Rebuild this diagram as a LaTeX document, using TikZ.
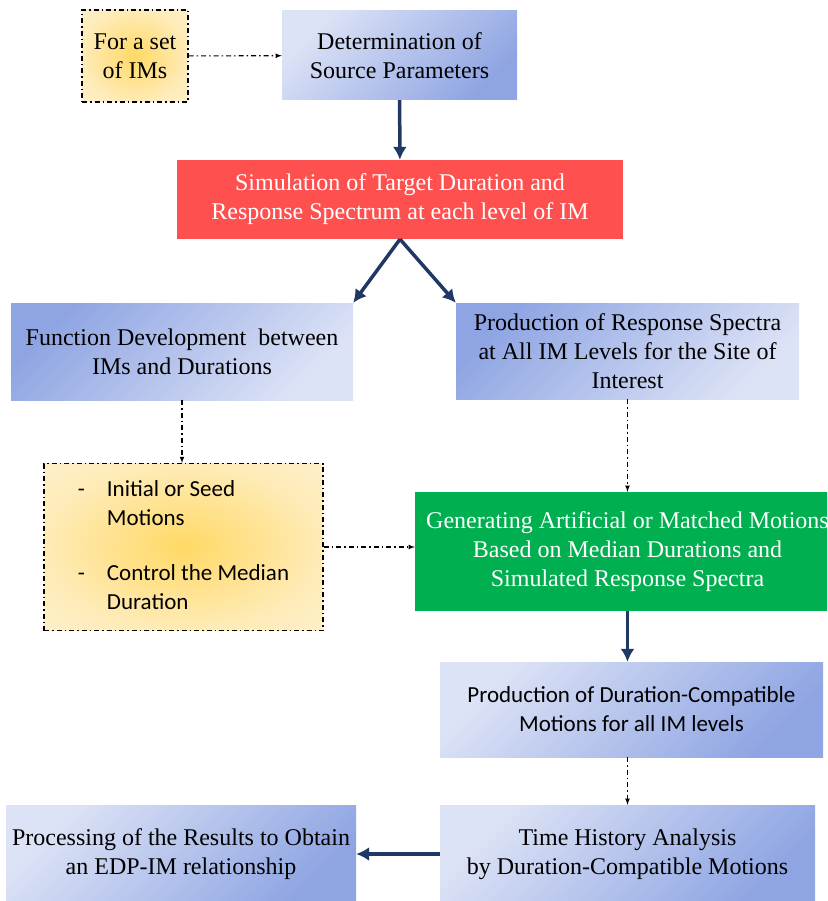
\documentclass[tikz,border=0pt]{standalone}
\usepackage{fontspec}
\setmainfont{Liberation Serif}
\newfontfamily\calibri{Carlito}
\usetikzlibrary{arrows.meta}

\definecolor{bluelite}{HTML}{DDE3F6}
\definecolor{bluedeep}{HTML}{8FA5E3}
\definecolor{goldcore}{HTML}{FFD966}
\definecolor{goldrim}{HTML}{FEF5E4}
\definecolor{redbox}{HTML}{FF5050}
\definecolor{greenbox}{HTML}{00B050}
\definecolor{arrowblue}{HTML}{203864}

\pgfdeclareradialshading{goldglow}{\pgfpoint{0bp}{0bp}}{color(0bp)=(goldcore); color(6bp)=(goldcore!85!goldrim); color(25bp)=(goldcore!35!goldrim); color(50bp)=(goldrim)}

\begin{document}
\begin{tikzpicture}[> = latex, x = 1pt, y = -1pt,
	box/.style = {rectangle, align = center, inner sep = 2pt, font = \fontsize{24}{29}\selectfont},
	sans/.style = {font = \calibri\fontsize{23}{29}\selectfont},
	litebox/.style = {box, top color = bluelite, bottom color = bluedeep, shading angle = 45},
	darkbox/.style = {box, top color = bluedeep, bottom color = bluelite, shading angle = 45},
	dashdot/.style = {line width = 1.1pt, dash pattern = on 5pt off 3pt on 1.5pt off 3pt},
	notebox/.style = {box, draw, dashdot, shade, shading = goldglow},
	flow/.style = {->, arrowblue, line width = 3.5pt, > = {Latex[length = 13pt, width = 14pt]}},
	hint/.style = {->, dashdot}]

	% Frame
	
	\path [use as bounding box, clip] (0, 0) rectangle (827, 901);
	
	% Boxes
	
	\node [notebox, minimum width = 106pt, minimum height = 92pt] (setim) at (135, 56) {For a set\\of IMs};
	\node [litebox, minimum width = 235pt, minimum height = 89pt] (source) at (399.5, 55.5) {Determination of\\Source Parameters};
	\node [box, fill = redbox, text = white, minimum width = 446pt, minimum height = 79pt] (target) at (400, 199.5) {Simulation of Target Duration and\\Response Spectrum at each level of IM};
	\node [darkbox, minimum width = 342pt, minimum height = 97pt] (func) at (182, 351.5) {Function Development\ \ between\\IMs and Durations};
	\node [darkbox, minimum width = 343pt, minimum height = 96pt] (spectra) at (627.5, 351) {Production of Response Spectra\\at All IM Levels for the Site of\\Interest};
	\node [notebox, sans, minimum width = 279pt, minimum height = 167pt] (seed) at (183.5, 547) {\begin{tabular}{@{}l@{\hspace{22pt}}l@{}}
		- & Initial or Seed\\
		  & Motions\\[26pt]
		- & Control the Median\\
		  & Duration
	\end{tabular}};
	\node [box, fill = greenbox, text = white, minimum width = 425pt, minimum height = 119pt] (motions) at (627.5, 551.5) {Generating Artificial or Matched Motions\\Based on Median Durations and\\Simulated Response Spectra};
	\node [litebox, sans, minimum width = 383pt, minimum height = 95pt] (durmot) at (631.5, 709.5) {Production of Duration-Compatible\\Motions for all IM levels};
	\node [litebox, minimum width = 375pt, minimum height = 98pt] (history) at (627.5, 854) {Time History Analysis\\by Duration-Compatible Motions};
	\node [litebox, minimum width = 350pt, minimum height = 98pt] (results) at (181, 854) {Processing of the Results to Obtain\\an EDP-IM relationship};
	
	% Connectors
	
	\draw [hint] (setim) -- (source);
	\draw [flow] (source) -- (target);
	\draw [flow] (target.south) -- (func.north east);
	\draw [flow] (target.south) -- (spectra.north west);
	\draw [hint] (func.south) -- (func.south |- seed.north);
	\draw [hint] (spectra) -- (motions);
	\draw [hint] (seed.east) -- (seed.east -| motions.west);
	\draw [flow] (motions.south) -- (motions.south |- durmot.north);
	\draw [hint] (history.north |- durmot.south) -- (history.north);
	\draw [flow] (history) -- (results);

\end{tikzpicture}
\end{document}
